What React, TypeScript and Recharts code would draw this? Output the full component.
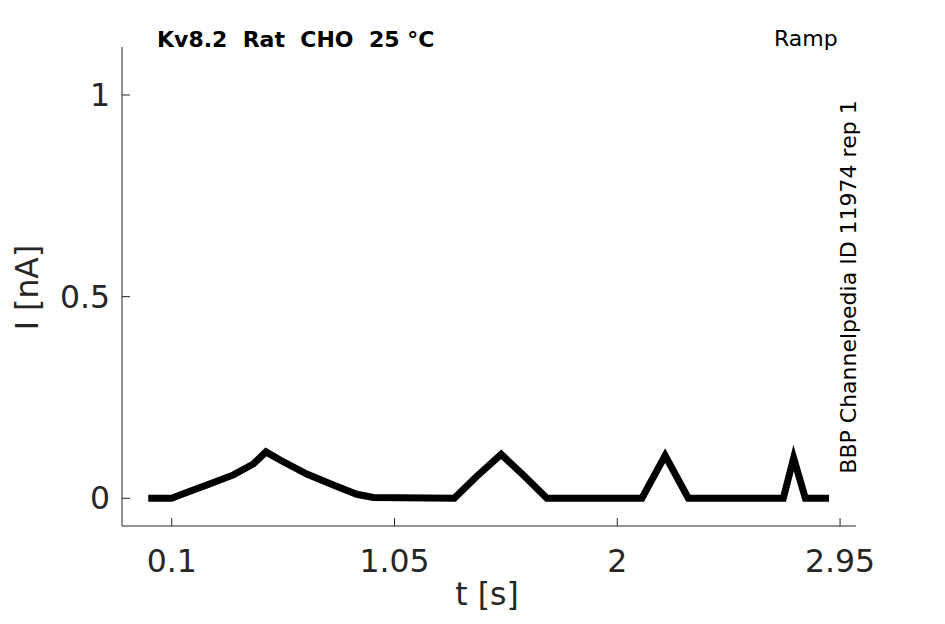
import { LineChart, Line, XAxis, YAxis } from 'recharts';

const timeS = [
  0, 0.1, 0.135, 0.25, 0.363, 0.448, 0.502, 0.562, 0.676, 0.789, 0.889, 0.96,
  1.305, 1.4, 1.505, 1.6, 1.7,
  2.105, 2.204, 2.303,
  2.708, 2.752, 2.802, 2.903,
];
const currentNA = [
  0, 0, 0.008, 0.033, 0.058, 0.085, 0.115, 0.095, 0.06, 0.033, 0.01, 0.002,
  0, 0.054, 0.109, 0.057, 0,
  0, 0.106, 0,
  0, 0.1, 0, 0,
];
const xTicks = [0.1, 1.05, 2, 2.95];
const yTicks = [0, 0.5, 1];

const data = timeS.map((t, i) => ({ t, i: currentNA[i] }));

const font = 'DejaVu Sans, sans-serif';
const axisColor = '#262626';

export default function App() {
  const tickStyle = { fill: axisColor, fontSize: 31.5, fontFamily: font };

  return (
    <div style={{ position: 'absolute', left: 0, top: 0, width: 945, height: 624, background: '#fff' }}>
      <LineChart width={945} height={624} data={data} margin={{ top: 47, right: 89, bottom: 0, left: 0 }}>
        <XAxis
          dataKey="t"
          type="number"
          domain={[-0.112, 3.018]}
          ticks={xTicks}
          height={98}
          stroke={axisColor}
          tickSize={-8}
          tickMargin={32}
          tick={tickStyle}
          interval={0}
        />
        <YAxis
          type="number"
          domain={[-0.0687, 1.119]}
          ticks={yTicks}
          width={122}
          stroke={axisColor}
          tickSize={-8}
          tickMargin={20}
          tick={tickStyle}
          interval={0}
        />
        <Line
          type="linear"
          dataKey="i"
          stroke="#000"
          strokeWidth={7}
          dot={false}
          isAnimationActive={false}
        />
      </LineChart>
      <svg width={945} height={624} style={{ position: 'absolute', left: 0, top: 0, pointerEvents: 'none' }}>
        <text x={157} y={46.5} fontFamily={font} fontSize={22} fontWeight="bold" fill="#000" xmlSpace="preserve">
          Kv8.2  Rat  CHO  25 °C
        </text>
        <text x={774} y={46} fontFamily={font} fontSize={22} fill="#000">
          Ramp
        </text>
        <text transform="translate(856,287) rotate(-90)" textAnchor="middle" fontFamily={font} fontSize={22} fill="#000">
          BBP Channelpedia ID 11974 rep 1
        </text>
        <text transform="translate(38,287.5) rotate(-90)" textAnchor="middle" fontFamily={font} fontSize={31.5} fill={axisColor}>
          I [nA]
        </text>
        <text x={487} y={605} textAnchor="middle" fontFamily={font} fontSize={31.5} fill={axisColor}>
          t [s]
        </text>
      </svg>
    </div>
  );
}
